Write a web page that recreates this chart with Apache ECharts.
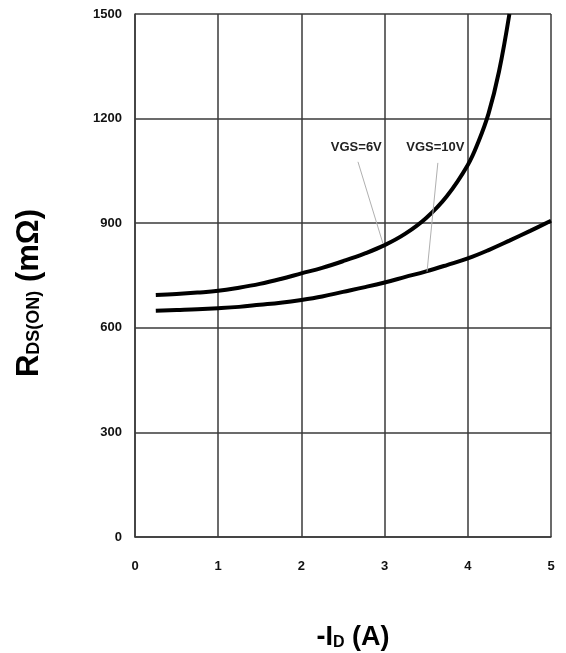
<!DOCTYPE html>
<html>
<head>
<meta charset="utf-8">
<script src="https://cdn.jsdelivr.net/npm/echarts@6/dist/echarts.min.js"></script>
<style>
  html, body { margin: 0; padding: 0; background: #fff; }
  #chart { width: 566px; height: 653px; }
</style>
</head>
<body>
<div id="chart"></div>
<script>
// drain current -ID (A) vs RDS(ON) (mOhm)
var idVgs6   = [0.25, 0.5, 0.75, 1, 1.25, 1.5, 1.75, 2, 2.25, 2.5, 2.75, 3, 3.25, 3.5, 3.75, 4, 4.125, 4.25, 4.375, 4.5];
var rdsVgs6  = [694, 697, 701, 706, 715, 726, 740, 756, 772, 791, 812, 837, 870, 915, 978, 1067, 1132, 1215, 1335, 1500];
var idVgs10  = [0.25, 0.5, 0.75, 1, 1.25, 1.5, 1.75, 2, 2.25, 2.5, 2.75, 3, 3.25, 3.5, 3.75, 4, 4.25, 4.5, 4.75, 5];
var rdsVgs10 = [649, 651, 653, 656, 660, 666, 672, 680, 690, 703, 716, 730, 746, 762, 780, 799, 823, 850, 878, 907];

var seriesNames = ['VGS=6V', 'VGS=10V'];
// where the callout text sits and where its leader line ends (data units)
var labelPos  = [[2.66, 1116], [3.61, 1116]];
var leaderTop = [[2.68, 1076], [3.64, 1073]];
var leaderEnd = [[2.98, 842], [3.51, 761]];

var tickFont = "'Liberation Sans Narrow', 'Liberation Sans', sans-serif";
var titleFont = "'Liberation Sans', Arial, sans-serif";

function pairs(xs, ys) {
  var out = [];
  for (var i = 0; i < xs.length; i++) out.push([xs[i], ys[i]]);
  return out;
}

function makeSeries(idx, xs, ys) {
  return {
    name: seriesNames[idx],
    type: 'line',
    data: pairs(xs, ys),
    smooth: 0.4,
    symbol: 'none',
    lineStyle: { color: '#000', width: 4 },
    markLine: {
      silent: true,
      symbol: 'none',
      label: { show: false },
      lineStyle: { color: '#b0b0b0', width: 1, type: 'solid' },
      data: [[{ coord: leaderTop[idx] }, { coord: leaderEnd[idx] }]]
    },
    markPoint: {
      silent: true,
      symbol: 'circle',
      symbolSize: 0,
      label: {
        show: true,
        position: 'inside',
        formatter: seriesNames[idx],
        color: '#222',
        fontFamily: tickFont,
        fontWeight: 'bold',
        fontSize: 13
      },
      data: [{ coord: labelPos[idx] }]
    }
  };
}

var myChart = echarts.init(document.getElementById('chart'));
var option = {
  animation: false,
  backgroundColor: '#fff',
  grid: { left: 135, right: 15, top: 14, bottom: 116 },
  xAxis: {
    type: 'value',
    min: 0, max: 5, interval: 1,
    axisLine: { show: true, lineStyle: { color: '#3a3a3a', width: 1.5 } },
    axisTick: { show: false },
    splitLine: { show: true, lineStyle: { color: '#3a3a3a', width: 1.5 } },
    axisLabel: { margin: 23, color: '#111', fontFamily: tickFont, fontWeight: 'bold', fontSize: 13,
      formatter: function (v) { return String(v); } }
  },
  yAxis: {
    type: 'value',
    min: 0, max: 1500, interval: 300,
    axisLine: { show: true, lineStyle: { color: '#3a3a3a', width: 1.5 } },
    axisTick: { show: false },
    splitLine: { show: true, lineStyle: { color: '#3a3a3a', width: 1.5 } },
    axisLabel: { margin: 13, color: '#111', fontFamily: tickFont, fontWeight: 'bold', fontSize: 13,
      formatter: function (v) { return String(v); } }
  },
  graphic: [
    {
      type: 'text',
      x: 29, y: 293,
      rotation: Math.PI / 2,
      silent: true,
      style: {
        text: '{b|R}{s|DS(ON)}{b| (mΩ)}',
        align: 'center',
        verticalAlign: 'middle',
        rich: {
          b: { fontFamily: titleFont, fontWeight: 'bold', fontSize: 31, fill: '#000', lineHeight: 34 },
          s: { fontFamily: titleFont, fontWeight: 'bold', fontSize: 18, fill: '#000', lineHeight: 34, padding: [10, 0, 0, 0] }
        }
      }
    },
    {
      type: 'text',
      x: 353, y: 638,
      silent: true,
      style: {
        text: '{b|-I}{s|D}{b| (A)}',
        align: 'center',
        verticalAlign: 'middle',
        rich: {
          b: { fontFamily: titleFont, fontWeight: 'bold', fontSize: 27, fill: '#000', lineHeight: 30 },
          s: { fontFamily: titleFont, fontWeight: 'bold', fontSize: 16, fill: '#000', lineHeight: 30, padding: [9, 0, 0, 0] }
        }
      }
    }
  ],
  series: [
    makeSeries(0, idVgs6, rdsVgs6),
    makeSeries(1, idVgs10, rdsVgs10)
  ]
};
myChart.setOption(option);
</script>
</body>
</html>
